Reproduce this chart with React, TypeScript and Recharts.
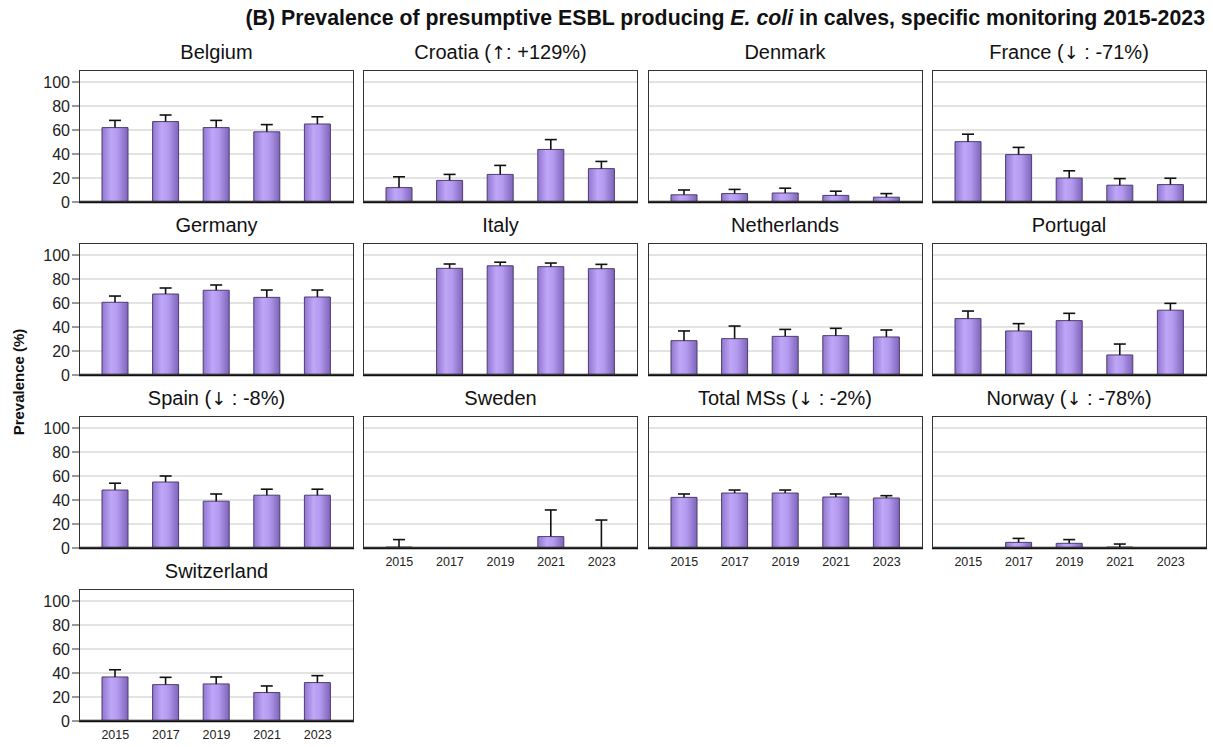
import React from 'react';
import { BarChart, Bar, XAxis, YAxis, CartesianGrid } from 'recharts';

const years = ['2015', '2017', '2019', '2021', '2023'];
const yTicks = [0, 20, 40, 60, 80, 100];

const belgiumValues = [62, 67, 62, 58.5, 65];
const belgiumUpper = [68, 72.5, 68, 64.5, 71];
const croatiaValues = [12, 18, 23, 43.8, 27.8];
const croatiaUpper = [21, 23, 30.5, 52, 33.8];
const denmarkValues = [6, 7, 7.5, 5.5, 4];
const denmarkUpper = [10, 10.5, 11.5, 9, 7];
const franceValues = [50.3, 39.5, 20, 14, 14.5];
const franceUpper = [56.5, 45.5, 26, 19.5, 19.8];
const germanyValues = [60.6, 67.5, 70.6, 64.7, 65];
const germanyUpper = [65.8, 72.5, 75, 70.8, 70.8];
const italyValues = [null, 88.9, 91, 90.3, 88.6];
const italyUpper = [null, 92.5, 94, 93.3, 92.2];
const netherlandsValues = [28.6, 30.3, 32.2, 32.8, 31.7];
const netherlandsUpper = [36.7, 40.8, 38, 38.9, 37.5];
const portugalValues = [47, 36.7, 45.3, 16.7, 54];
const portugalUpper = [53.3, 42.8, 51.4, 25.8, 59.7];
const spainValues = [48.3, 55, 39, 44, 44];
const spainUpper = [54, 60, 45, 49, 49];
const swedenValues = [0.8, null, null, 9.5, 0];
const swedenUpper = [7, null, null, 31.7, 23.3];
const totalValues = [42.2, 45.8, 45.8, 42.5, 41.7];
const totalUpper = [45, 48.3, 48.3, 45, 43.6];
const norwayValues = [null, 4.7, 3.9, 0.8, null];
const norwayUpper = [null, 8, 7, 3.3, null];
const switzerlandValues = [36.7, 30.3, 30.9, 23.7, 32];
const switzerlandUpper = [42.7, 36.4, 36.7, 29.2, 37.8];

const panels = [
  { id: 'be', name: 'Belgium', trend: null, values: belgiumValues, upper: belgiumUpper, row: 0, col: 0, showX: false },
  { id: 'hr', name: 'Croatia', trend: ['↑', ': +129%'], values: croatiaValues, upper: croatiaUpper, row: 0, col: 1, showX: false },
  { id: 'dk', name: 'Denmark', trend: null, values: denmarkValues, upper: denmarkUpper, row: 0, col: 2, showX: false },
  { id: 'fr', name: 'France', trend: ['↓', ' : -71%'], values: franceValues, upper: franceUpper, row: 0, col: 3, showX: false },
  { id: 'de', name: 'Germany', trend: null, values: germanyValues, upper: germanyUpper, row: 1, col: 0, showX: false },
  { id: 'it', name: 'Italy', trend: null, values: italyValues, upper: italyUpper, row: 1, col: 1, showX: false },
  { id: 'nl', name: 'Netherlands', trend: null, values: netherlandsValues, upper: netherlandsUpper, row: 1, col: 2, showX: false },
  { id: 'pt', name: 'Portugal', trend: null, values: portugalValues, upper: portugalUpper, row: 1, col: 3, showX: false },
  { id: 'es', name: 'Spain', trend: ['↓', ' : -8%'], values: spainValues, upper: spainUpper, row: 2, col: 0, showX: false },
  { id: 'se', name: 'Sweden', trend: null, values: swedenValues, upper: swedenUpper, row: 2, col: 1, showX: true },
  { id: 'ms', name: 'Total MSs', trend: ['↓', ' : -2%'], values: totalValues, upper: totalUpper, row: 2, col: 2, showX: true },
  { id: 'no', name: 'Norway', trend: ['↓', ' : -78%'], values: norwayValues, upper: norwayUpper, row: 2, col: 3, showX: true },
  { id: 'ch', name: 'Switzerland', trend: null, values: switzerlandValues, upper: switzerlandUpper, row: 3, col: 0, showX: true },
];

const colLefts = [79, 363, 647.5, 931.5];
const rowTops = [70, 243, 416, 589];
const PW = 275;
const PH = 132;
const YW = 79;
const FONT = '"Liberation Sans", Arial, Helvetica, sans-serif';

function ErrorShape(props: any) {
  const { x, y, width, height } = props;
  if (x == null || y == null || !height || !isFinite(height)) return null;
  const cx = x + width / 2;
  return (
    <g>
      <line x1={cx} y1={y + height} x2={cx} y2={y} stroke="#111" strokeWidth={1.6} />
      <line x1={cx - 6} y1={y} x2={cx + 6} y2={y} stroke="#111" strokeWidth={1.6} />
    </g>
  );
}

function Panel({ p }: { p: any }) {
  const data = years.map((y, i) => {
    const v = p.values[i];
    const u = p.upper[i];
    return {
      year: y,
      value: v,
      errLen: v == null || u == null ? null : u - v,
    };
  });
  const first = p.col === 0;
  const left = colLefts[p.col] - (first ? YW : 0);
  const width = PW + (first ? YW : 0);
  const top = rowTops[p.row];
  const gid = 'grad-' + p.id;
  return (
    <>
      <div style={{ position: 'absolute', left, top, width, height: PH + 25 }}>
        <BarChart width={width} height={PH + 25} data={data} margin={{ top: 0, right: 0, bottom: 0, left: 0 }}>
          <defs>
            <linearGradient id={gid} x1="0" y1="0" x2="1" y2="0">
              <stop offset="0%" stopColor="#9076cf" />
              <stop offset="35%" stopColor="#bfa6f7" />
              <stop offset="60%" stopColor="#b39aee" />
              <stop offset="100%" stopColor="#7f64ba" />
            </linearGradient>
          </defs>
          <CartesianGrid vertical={false} stroke="#e3e3e3" strokeWidth={2} />
          <XAxis
            dataKey="year"
            height={25}
            padding={{ left: 11, right: 11 }}
            axisLine={{ stroke: '#111', strokeWidth: 2.5 }}
            tickLine={false}
            tickSize={0}
            tickMargin={9}
            interval={0}
            tick={p.showX ? { fontSize: 12.5, fill: '#222', fontFamily: FONT } : false}
          />
          <YAxis
            domain={[0, 110]}
            ticks={yTicks}
            width={YW}
            hide={!first}
            axisLine={false}
            tickLine={{ stroke: '#333' }}
            tickSize={7}
            tickMargin={2}
            tick={{ fontSize: 16, fill: '#222', fontFamily: FONT }}
          />
          <Bar dataKey="value" stackId="s" barSize={26} fill={`url(#${gid})`} stroke="#4d3d70" strokeWidth={1} isAnimationActive={false} />
          <Bar dataKey="errLen" stackId="s" barSize={26} shape={ErrorShape} isAnimationActive={false} />
        </BarChart>
      </div>
      <div
        style={{
          position: 'absolute',
          left: colLefts[p.col],
          top,
          width: PW,
          height: PH,
          border: '1.5px solid #333',
          boxSizing: 'border-box',
          pointerEvents: 'none',
        }}
      />
      <div
        style={{
          position: 'absolute',
          left: colLefts[p.col],
          top: top - 30,
          width: PW,
          textAlign: 'center',
          fontSize: 20,
          lineHeight: '24px',
          color: '#111',
          fontFamily: FONT,
          whiteSpace: 'nowrap',
        }}
      >
        {p.name}
        {p.trend ? (
          <>
            {' ('}
            <span style={{ fontFamily: '"DejaVu Sans", sans-serif', fontSize: 18 }}>{p.trend[0]}</span>
            {p.trend[1] + ')'}
          </>
        ) : null}
      </div>
    </>
  );
}

export default function App() {
  return (
    <div style={{ position: 'absolute', left: 0, top: 0, width: 1213, height: 747, background: '#fff', fontFamily: FONT, overflow: 'hidden' }}>
      <div
        style={{
          position: 'absolute',
          right: 8,
          top: 5,
          fontSize: 21.3,
          fontWeight: 'bold',
          lineHeight: '26px',
          color: '#111',
          whiteSpace: 'nowrap',
        }}
      >
        (B) Prevalence of presumptive ESBL producing <i>E. coli</i> in calves, specific monitoring 2015-2023
      </div>
      <div
        style={{
          position: 'absolute',
          left: 18,
          top: 382,
          transform: 'translate(-50%, -50%) rotate(-90deg)',
          fontSize: 15,
          fontWeight: 'bold',
          color: '#111',
          whiteSpace: 'nowrap',
        }}
      >
        Prevalence (%)
      </div>
      {panels.map((p) => (
        <Panel key={p.id} p={p} />
      ))}
    </div>
  );
}
